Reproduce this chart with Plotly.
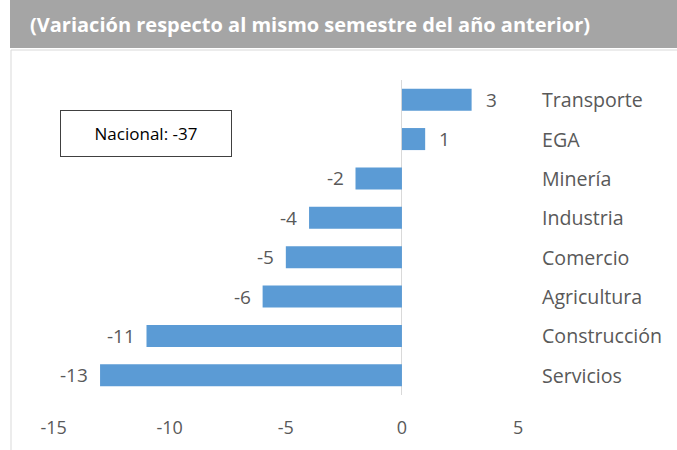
import plotly.graph_objects as go

categories = ["Servicios", "Construcción", "Agricultura", "Comercio", "Industria", "Minería", "EGA", "Transporte"]
values = [-13, -11, -6, -5, -4, -2, 1, 3]
tick_vals = [-15, -10, -5, 0, 5]
tick_text = ["-15", "-10", "-5", "0", "5"]
title_text = "(Variación respecto al mismo semestre del año anterior)"
box_text = "Nacional: -37"

W, H = 677, 450
ML, MR, MT, MB = 42, 8, 80, 55
PW, PH = W - ML - MR, H - MT - MB

def px(x):
    return (x - ML) / PW

def py(y):
    return (H - MB - y) / PH

FONT = "Open Sans"
GRAY = "#595959"

fig = go.Figure()
fig.add_trace(go.Bar(
    x=values, y=categories, orientation="h",
    marker=dict(color="#5B9BD5", line=dict(width=0)),
    width=0.56, hoverinfo="skip",
))

annotations = []
for c, v in zip(categories, values):
    annotations.append(dict(
        x=v, y=c, xref="x", yref="y", text=str(v), showarrow=False,
        xanchor="left" if v >= 0 else "right",
        xshift=12 if v >= 0 else -10,
        font=dict(family=FONT, size=19, color=GRAY),
    ))
    annotations.append(dict(
        x=5.95, y=c, xref="x", yref="y", text=c, showarrow=False,
        xanchor="left", font=dict(family=FONT, size=19.6, color=GRAY),
    ))

annotations.append(dict(
    x=px(28), y=py(25), xref="paper", yref="paper", text="<b>" + title_text + "</b>",
    showarrow=False, xanchor="left", yanchor="middle",
    font=dict(family=FONT, size=20, color="white"),
))
annotations.append(dict(
    x=px(146), y=py(133), xref="paper", yref="paper", text=box_text,
    showarrow=False, xanchor="center", yanchor="middle",
    width=170, height=45, bordercolor="#404040", borderwidth=1, borderpad=0,
    bgcolor="white", font=dict(family=FONT, size=17, color="black"),
))

shapes = [
    dict(type="rect", xref="paper", yref="paper", x0=px(10), x1=px(677), y0=py(48), y1=py(0),
         fillcolor="#A5A5A5", line=dict(width=0), layer="below"),
    dict(type="line", xref="paper", yref="paper", x0=px(11), x1=px(677), y0=py(50), y1=py(50),
         line=dict(color="#D9D9D9", width=1)),
    dict(type="line", xref="paper", yref="paper", x0=px(11), x1=px(11), y0=py(50), y1=py(450),
         line=dict(color="#D9D9D9", width=1)),
]

fig.update_layout(
    width=W, height=H, margin=dict(l=ML, r=MR, t=MT, b=MB),
    paper_bgcolor="white", plot_bgcolor="white",
    showlegend=False, annotations=annotations, shapes=shapes,
    xaxis=dict(range=[-15.5, 11.5], tickvals=tick_vals, ticktext=tick_text, showgrid=False,
               zeroline=True, zerolinecolor="#D9D9D9", zerolinewidth=1,
               showline=False, ticks="", ticklabelstandoff=20,
               tickfont=dict(family=FONT, size=18, color=GRAY)),
    yaxis=dict(range=[-0.5, 7.5], showticklabels=False, showgrid=False, zeroline=False,
               showline=False, ticks=""),
)

fig.write_html("out.html", config={"displayModeBar": False},
               post_script="document.body.style.margin='0';")
